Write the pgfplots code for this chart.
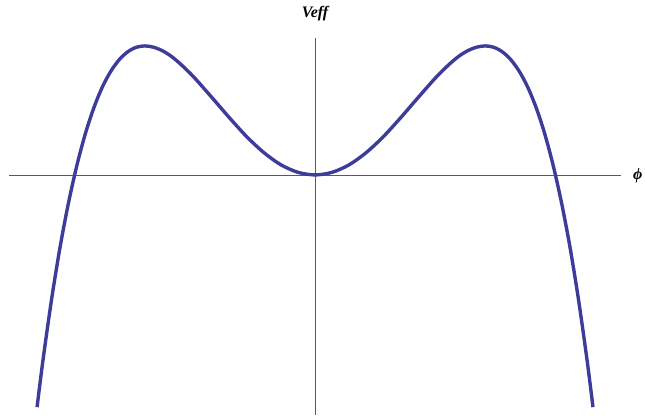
\documentclass[border=0pt]{standalone}
\usepackage{pgfplots}
\pgfplotsset{compat=1.18}
\usepackage{fontspec}
\setmainfont{Liberation Serif}
\definecolor{curve}{RGB}{61,61,153}
\definecolor{axisgray}{RGB}{90,90,90}
\begin{document}
\begin{tikzpicture}
\begin{axis}[
    scale only axis,
    width=645pt, height=419pt,
    xmin=-1.853, xmax=1.941,
    ymin=-0.946, ymax=0.678,
    hide axis,
    clip=false,
]
% axes through the origin
\draw[axisgray, line width=0.8pt] (axis cs:-1.8,0) -- (axis cs:1.8,0);
\draw[axisgray, line width=0.8pt] (axis cs:0,-0.93) -- (axis cs:0,0.531);

\addplot[curve, line width=3.4pt, smooth] coordinates {
(-1.635,-0.900) (-1.60,-0.717) (-1.55,-0.484) (-1.50,-0.281) (-1.45,-0.108)
(-1.40,0.039) (-1.35,0.162) (-1.30,0.262) (-1.25,0.342) (-1.20,0.403)
(-1.15,0.448) (-1.10,0.478) (-1.05,0.495) (-1.00,0.500) (-0.95,0.495)
(-0.90,0.482) (-0.85,0.462) (-0.80,0.435) (-0.75,0.404) (-0.70,0.370)
(-0.60,0.295) (-0.50,0.219) (-0.40,0.147) (-0.30,0.086) (-0.20,0.039)
(-0.10,0.010) (0,0) (0.10,0.010) (0.20,0.039) (0.30,0.086) (0.40,0.147)
(0.50,0.219) (0.60,0.295) (0.70,0.370) (0.75,0.404) (0.80,0.435)
(0.85,0.462) (0.90,0.482) (0.95,0.495) (1.00,0.500) (1.05,0.495)
(1.10,0.478) (1.15,0.448) (1.20,0.403) (1.25,0.342) (1.30,0.262)
(1.35,0.162) (1.40,0.039) (1.45,-0.108) (1.50,-0.281) (1.55,-0.484)
(1.60,-0.717) (1.635,-0.900)
};

\node[font=\fontsize{16}{16}\selectfont\bfseries\itshape] at (axis cs:0,0.627) {Veff};
\node[font=\fontsize{16}{16}\selectfont\bfseries\itshape, anchor=west, inner sep=0pt] at (axis cs:1.87,-0.005) {ϕ};
\end{axis}
\pgfresetboundingbox
\path[use as bounding box] (current axis.south west) rectangle (current axis.north east);
\end{tikzpicture}
\end{document}
